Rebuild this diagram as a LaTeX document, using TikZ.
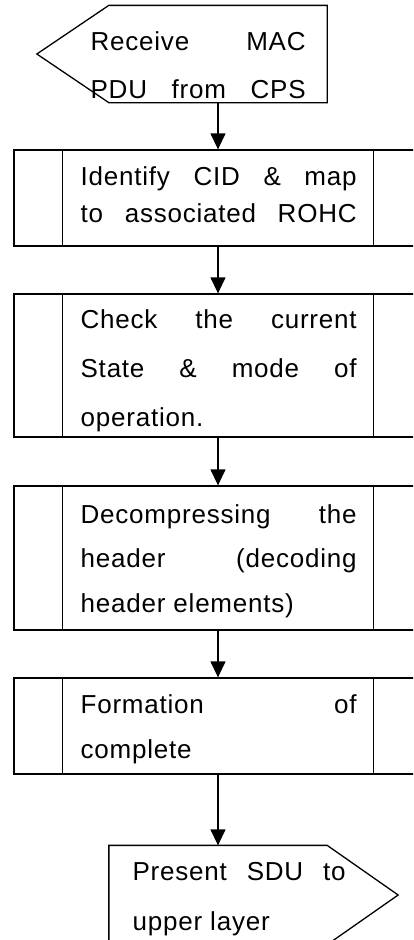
\documentclass[tikz,border=0pt]{standalone}
\usepackage{fontspec}
\setmainfont{Liberation Sans}[LetterSpace=3]
\usetikzlibrary{arrows.meta}
% one text line stretched to the full column width
\newcommand\jline[1]{\makebox[\linewidth][s]{#1}}
\begin{document}
\begin{tikzpicture}[x=1pt,y=-1pt,line width=1.3pt,
  flow/.style={draw,line width=1.3pt,-{Triangle[length=16pt,width=15pt]}},
  procbox/.style={draw,minimum width=408pt,inner sep=0pt,line width=1.3pt},
  frame/.style={minimum width=217pt,inner sep=0pt},
  txt/.style={anchor=base west,inner sep=0pt,font=\fontsize{26}{30}\selectfont}]
\useasboundingbox (0,0) rectangle (413,940);
\clip (0,0) rectangle (413,940);

% input symbol
\node[frame,minimum height=96pt] (recv) at (218,54) {};
\draw (recv.north east) -- (recv.north west) -- ([xshift=-72pt]recv.west)
  -- (recv.south west) -- (recv.south east) -- cycle;

% predefined-process boxes
\node[procbox,minimum height=96pt]  (ident)  at (218,198) {};
\node[procbox,minimum height=143pt] (state)  at (218,365.5) {};
\node[procbox,minimum height=144pt] (decomp) at (218,558) {};
\node[procbox,minimum height=96pt]  (form)   at (218,726) {};
\foreach \b in {ident,state,decomp,form}{
  \draw ([xshift=49pt]\b.north west) -- ([xshift=49pt]\b.south west);
  \draw ([xshift=-49pt]\b.north east) -- ([xshift=-49pt]\b.south east);
}

% output symbol
\node[frame,minimum height=98pt] (pres) at (218,895) {};
\draw (pres.north west) -- (pres.north east) -- ([xshift=71pt]pres.east)
  -- (pres.south east) -- (pres.south west) -- cycle;

% texts
\node[txt] (recvtxt) at (90,50) {\parbox[t]{215pt}{\baselineskip=48pt
  \jline{Receive MAC}\\\jline{PDU from CPS}}};
\node[txt] (identtxt) at (80,185) {\parbox[t]{276pt}{\baselineskip=37pt
  \jline{Identify CID \& map}\\\jline{to associated ROHC}}};
\node[txt] (statetxt) at (80,328) {\parbox[t]{276pt}{\baselineskip=49pt
  \jline{Check the current}\\\jline{State \& mode of}\\operation.}};
\node[txt] (decomptxt) at (80,523) {\parbox[t]{276pt}{\baselineskip=44.5pt
  \jline{Decompressing the}\\\jline{header (decoding}\\header elements)}};
\node[txt] (formtxt) at (80,713) {\parbox[t]{276pt}{\baselineskip=45pt
  \jline{Formation of}\\complete}};
\node[txt] (prestxt) at (132,880) {\parbox[t]{213pt}{\baselineskip=50pt
  \jline{Present SDU to}\\upper layer}};

% connectors
\draw[flow] (recv.south) -- (ident.north);
\draw[flow] (ident.south) -- (state.north);
\draw[flow] (state.south) -- (decomp.north);
\draw[flow] (decomp.south) -- (form.north);
\draw[flow] (form.south) -- (pres.north);
\end{tikzpicture}
\end{document}
